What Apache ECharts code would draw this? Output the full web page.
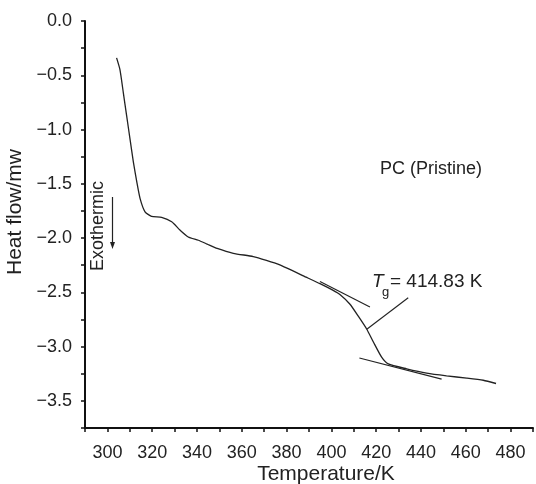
<!DOCTYPE html>
<html>
<head>
<meta charset="utf-8">
<script src="https://cdn.jsdelivr.net/npm/echarts@6/dist/echarts.min.js"></script>
<style>
  html, body { margin: 0; padding: 0; background: #fff; }
  #chart { width: 536px; height: 484px; }
</style>
</head>
<body>
<div id="chart"></div>
<script>
// DSC curve, PC (Pristine)
var tempK = [304.1, 305.6, 307.1, 308.6, 310.1, 311.6, 313.1, 314.6, 316.8, 319.7, 324.2, 328.7, 332.4, 336.1, 340.6, 344.5, 349.0, 356.2, 365.1, 371.0, 376.7, 388.7, 394.9, 400.6, 403.8, 408.3, 412.0, 415.8, 418.8, 422.5, 425.4, 433.6, 442.5, 451.4, 460.4, 467.8, 473.5];
var heatFlow = [-0.34, -0.448, -0.66, -0.875, -1.088, -1.30, -1.48, -1.636, -1.758, -1.80, -1.81, -1.85, -1.926, -1.99, -2.02, -2.055, -2.095, -2.14, -2.17, -2.205, -2.245, -2.36, -2.42, -2.48, -2.52, -2.61, -2.72, -2.84, -2.96, -3.10, -3.16, -3.205, -3.245, -3.27, -3.29, -3.31, -3.34];

// construction lines for Tg
var upperTangentX = [394.9, 417.2];
var upperTangentY = [-2.40, -2.635];
var lowerTangentX = [412.5, 449.2];
var lowerTangentY = [-3.105, -3.30];
var pointerX = [415.8, 434.3];
var pointerY = [-2.84, -2.55];

var xTicks = [300, 320, 340, 360, 380, 400, 420, 440, 460, 480];
var yTicks = [0, -0.5, -1, -1.5, -2, -2.5, -3, -3.5];

function pairs(xs, ys) {
	return xs.map(function (x, i) { return [x, ys[i]]; });
}

var font = '"Liberation Sans", Arial, Helvetica, sans-serif';
var ink = '#222';

var option = {
	animation: false,
	backgroundColor: '#fff',
	grid: { left: 85, right: 3, top: 21, bottom: 56, containLabel: false },
	xAxis: {
		type: 'value',
		min: 290,
		max: 490,
		interval: 10,
		axisLine: { onZero: false, lineStyle: { color: '#111', width: 2 } },
		axisTick: { inside: false, length: 4, lineStyle: { color: '#111', width: 1.5 } },
		axisLabel: {
			margin: 16,
			fontFamily: font,
			fontSize: 18,
			color: ink,
			formatter: function (v) {
				return xTicks.indexOf(v) >= 0 ? String(v) : '';
			}
		},
		splitLine: { show: false }
	},
	yAxis: {
		type: 'value',
		min: -3.75,
		max: 0,
		interval: 0.25,
		axisLine: { show: true, onZero: false, lineStyle: { color: '#111', width: 2 } },
		axisTick: { show: true, inside: false, length: 4, lineStyle: { color: '#111', width: 1.5 } },
		axisLabel: {
			margin: 13,
			fontFamily: font,
			fontSize: 18,
			color: ink,
			formatter: function (v) {
				var hit = yTicks.some(function (t) { return Math.abs(t - v) < 1e-6; });
				if (!hit) return '';
				return v.toFixed(1).replace('-', '\u2212');
			}
		},
		splitLine: { show: false }
	},
	series: [
		{
			type: 'line',
			data: pairs(tempK, heatFlow),
			showSymbol: false,
			smooth: 0.2,
			lineStyle: { color: ink, width: 1.3 }
		},
		{
			type: 'line',
			data: pairs(upperTangentX, upperTangentY),
			showSymbol: false,
			lineStyle: { color: ink, width: 1.2 }
		},
		{
			type: 'line',
			data: pairs(lowerTangentX, lowerTangentY),
			showSymbol: false,
			lineStyle: { color: ink, width: 1.2 }
		},
		{
			type: 'line',
			data: pairs(pointerX, pointerY),
			showSymbol: false,
			lineStyle: { color: ink, width: 1.1 }
		}
	],
	graphic: [
		{
			type: 'text',
			x: 15, y: 212,
			rotation: Math.PI / 2,
			style: { text: 'Heat flow/mw', font: '21px ' + font, fill: ink, align: 'center', verticalAlign: 'middle' }
		},
		{
			type: 'text',
			x: 326, y: 474,
			style: { text: 'Temperature/K', font: '21px ' + font, fill: ink, align: 'center', verticalAlign: 'middle' }
		},
		{
			type: 'text',
			x: 380, y: 169,
			style: { text: 'PC (Pristine)', font: '18px ' + font, fill: ink, align: 'left', verticalAlign: 'middle' }
		},
		{
			type: 'text',
			x: 98, y: 226,
			rotation: Math.PI / 2,
			style: { text: 'Exothermic', font: '18px ' + font, fill: ink, align: 'center', verticalAlign: 'middle' }
		},
		{
			type: 'line',
			shape: { x1: 112.5, y1: 197, x2: 112.5, y2: 244 },
			style: { stroke: ink, lineWidth: 1.2 }
		},
		{
			type: 'polygon',
			shape: { points: [[110, 242], [115, 242], [112.5, 249]] },
			style: { fill: ink }
		},
		// T_g = 414.83 K
		{
			type: 'text',
			x: 372, y: 282,
			style: { text: 'T', font: 'italic 19px ' + font, fill: ink, align: 'left', verticalAlign: 'middle' }
		},
		{
			type: 'text',
			x: 382, y: 292,
			style: { text: 'g', font: '13px ' + font, fill: ink, align: 'left', verticalAlign: 'middle' }
		},
		{
			type: 'text',
			x: 390, y: 282,
			style: { text: '= 414.83 K', font: '19px ' + font, fill: ink, align: 'left', verticalAlign: 'middle' }
		}
	]
};

var myChart = echarts.init(document.getElementById('chart'));
myChart.setOption(option);
</script>
</body>
</html>
